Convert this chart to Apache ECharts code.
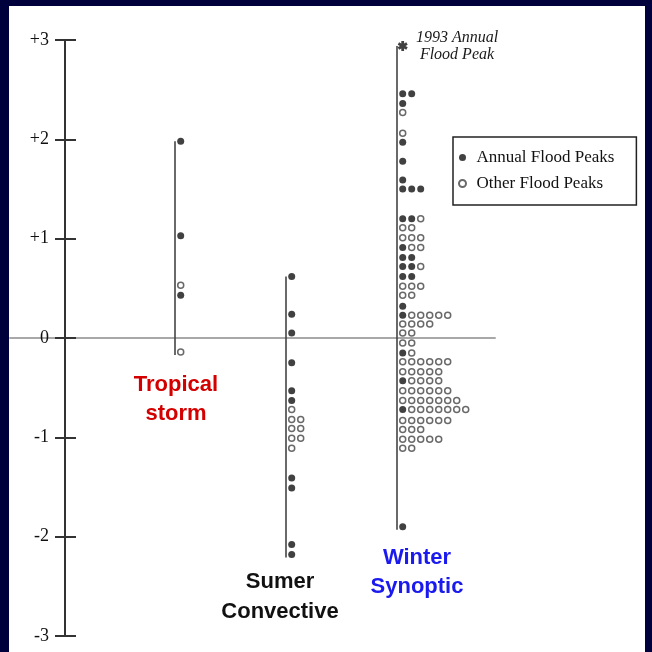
<!DOCTYPE html>
<html>
<head>
<meta charset="utf-8">
<title>Flood peaks by storm type</title>
<script src="https://cdn.jsdelivr.net/npm/echarts@6/dist/echarts.min.js"></script>
<style>
    html, body { margin: 0; padding: 0; background: #00003c; }
    #main { width: 652px; height: 652px; }
</style>
</head>
<body>
<div id="main"></div>
<script>
// group names and y tick labels
var groupNames = ['Tropical storm', 'Sumer Convective', 'Winter Synoptic'];
var yTickLabels = ['-3', '-2', '-1', '0', '+1', '+2', '+3'];

// each row: [value, annual flood peaks, other flood peaks]
var tropicalRows = [
    [1.98, 1, 0], [1.03, 1, 0], [0.53, 0, 1], [0.43, 1, 0], [-0.14, 0, 1]
];
var sumerRows = [
    [0.62, 1, 0], [0.24, 1, 0], [0.05, 1, 0], [-0.25, 1, 0], [-0.53, 1, 0],
    [-0.63, 1, 0], [-0.72, 0, 1], [-0.82, 0, 2], [-0.91, 0, 2], [-1.01, 0, 2],
    [-1.11, 0, 1], [-1.41, 1, 0], [-1.51, 1, 0], [-2.08, 1, 0], [-2.18, 1, 0]
];
var winterRows = [
    [2.46, 2, 0], [2.36, 1, 0], [2.27, 0, 1], [2.06, 0, 1], [1.97, 1, 0],
    [1.78, 1, 0], [1.59, 1, 0], [1.50, 3, 0], [1.20, 2, 1], [1.11, 0, 2],
    [1.01, 0, 3], [0.91, 1, 2], [0.81, 2, 0], [0.72, 2, 1], [0.62, 2, 0],
    [0.52, 0, 3], [0.43, 0, 2], [0.32, 1, 0], [0.23, 1, 5], [0.14, 0, 4],
    [0.05, 0, 2], [-0.05, 0, 2], [-0.15, 1, 1], [-0.24, 0, 6], [-0.34, 0, 5],
    [-0.43, 1, 4], [-0.53, 0, 6], [-0.63, 0, 7], [-0.72, 1, 7], [-0.83, 0, 6],
    [-0.92, 0, 3], [-1.02, 0, 5], [-1.11, 0, 2], [-1.90, 1, 0]
];
var peak1993 = 2.94;

(function (window, echarts) {
    var chart = echarts.init(document.getElementById('main'));

    var groupRows = [tropicalRows, sumerRows, winterRows];
    var colX = [165, 276, 387];   // x of each group's stem (1 unit = 1px, from x=10)
    var dotOffset = 5.7;
    var dotStep = 9;

    var annual = [];
    var other = [];
    var stems = [];
    groupRows.forEach(function (rows, g) {
        var top = -Infinity, bottom = Infinity;
        rows.forEach(function (r) {
            var i;
            for (i = 0; i < r[1]; i++) {
                annual.push([colX[g] + dotOffset + i * dotStep, r[0]]);
            }
            for (i = 0; i < r[2]; i++) {
                other.push([colX[g] + dotOffset + (r[1] + i) * dotStep, r[0]]);
            }
            top = Math.max(top, r[0]);
            bottom = Math.min(bottom, r[0]);
        });
        if (g === 2) {
            top = Math.max(top, peak1993);
        }
        stems.push([{coord: [colX[g], top]}, {coord: [colX[g], bottom - 0.03]}]);
    });

    // six-armed asterisk outline for the 1993 peak
    var asterisk = 'path://M1.4,5L-1.4,5L-1.4,2.42L-3.63,3.71L-5.03,1.29L-2.8,0L-5.03,-1.29L-3.63,-3.71L-1.4,-2.42' +
        'L-1.4,-5L1.4,-5L1.4,-2.42L3.63,-3.71L5.03,-1.29L2.8,0L5.03,1.29L3.63,3.71L1.4,2.42Z';

    var yBase = {
        type: 'value',
        min: -3,
        max: 3,
        interval: 1,
        position: 'left',
        offset: -55,
        splitLine: {show: false}
    };

    var option = {
        backgroundColor: '#00003c',
        animation: false,
        graphic: [
            {type: 'rect', z: -10, shape: {x: 9, y: 6, width: 636, height: 646}, style: {fill: '#ffffff'}},
            {
                type: 'text', x: 457, y: 46,
                style: {
                    text: '1993 Annual\nFlood Peak', fill: '#1a1a1a', align: 'center', verticalAlign: 'middle',
                    font: 'italic 16px "Liberation Serif"', lineHeight: 17
                }
            },
            {
                type: 'text', x: 176, y: 399,
                style: {
                    text: 'Tropical\nstorm', fill: '#d40000', align: 'center', verticalAlign: 'middle',
                    font: 'bold 22px "Liberation Sans"', lineHeight: 29
                }
            },
            {
                type: 'text', x: 280, y: 597,
                style: {
                    text: 'Sumer\nConvective', fill: '#111', align: 'center', verticalAlign: 'middle',
                    font: 'bold 22px "Liberation Sans"', lineHeight: 30
                }
            },
            {
                type: 'text', x: 417, y: 572,
                style: {
                    text: 'Winter\nSynoptic', fill: '#1a1aee', align: 'center', verticalAlign: 'middle',
                    font: 'bold 22px "Liberation Sans"', lineHeight: 29
                }
            }
        ],
        legend: {
            data: ['Annual Flood Peaks', 'Other Flood Peaks'],
            orient: 'vertical',
            left: 453,
            top: 137,
            selectedMode: false,
            borderColor: '#222',
            borderWidth: 1.5,
            padding: [12, 22, 13, 5],
            itemGap: 9,
            itemWidth: 18,
            itemHeight: 7,
            textStyle: {fontFamily: 'Liberation Serif', fontSize: 17, color: '#111'}
        },
        grid: {left: 10, right: 157, top: 40, bottom: 16, outerBoundsMode: 'none'},
        xAxis: {
            type: 'value',
            min: 0,
            max: 485,
            axisLine: {show: true, onZero: true, lineStyle: {color: '#a8a8a8', width: 2}},
            axisTick: {show: false},
            axisLabel: {show: false},
            splitLine: {show: false}
        },
        yAxis: [
            echarts.util.merge({
                axisLine: {onZero: false, lineStyle: {color: '#333', width: 2}},
                axisTick: {length: 10, lineStyle: {color: '#333', width: 2}},
                axisLabel: {
                    margin: 16,
                    fontFamily: 'Liberation Serif',
                    fontSize: 18,
                    color: '#111',
                    formatter: function (v) { return yTickLabels[Math.round(v) + 3]; }
                }
            }, yBase, true),
            echarts.util.merge({
                axisLine: {onZero: false, show: false},
                axisTick: {inside: true, length: 11, lineStyle: {color: '#333', width: 2}},
                axisLabel: {show: false}
            }, yBase, true)
        ],
        series: [
            {
                name: 'Annual Flood Peaks',
                type: 'scatter',
                symbol: 'circle',
                symbolSize: 7,
                itemStyle: {color: '#111'},
                data: annual,
                markLine: {
                    silent: true,
                    symbol: 'none',
                    label: {show: false},
                    lineStyle: {color: '#444', width: 1.6, type: 'solid'},
                    data: stems
                }
            },
            {
                name: 'Other Flood Peaks',
                type: 'scatter',
                symbol: 'circle',
                symbolSize: 6,
                itemStyle: {color: '#fff', borderColor: '#444', borderWidth: 1.5},
                data: other
            },
            {
                name: '1993 Annual Flood Peak',
                type: 'scatter',
                symbol: asterisk,
                symbolSize: 10,
                itemStyle: {color: '#111'},
                data: [[colX[2] + dotOffset, peak1993]]
            }
        ]
    };

    chart.setOption(option);
})(window, echarts);
</script>
</body>
</html>
